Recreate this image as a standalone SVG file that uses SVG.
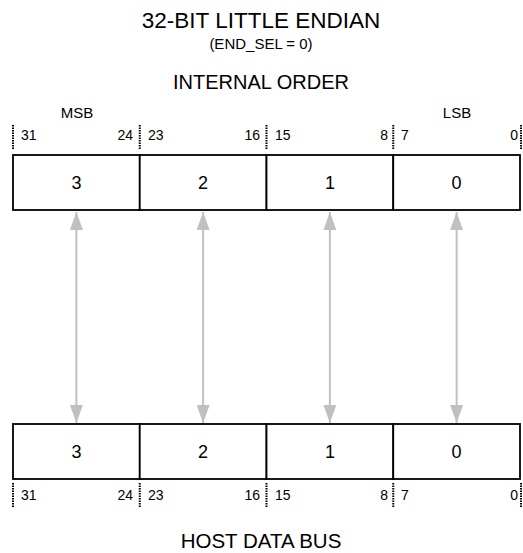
<svg xmlns="http://www.w3.org/2000/svg" width="523" height="553" viewBox="0 0 523 553">
<style>
text{font-family:"Liberation Sans",Arial,sans-serif;fill:#000}
.cell{fill:#fff;stroke:#000;stroke-width:1.8}
.num{font-size:18px;text-anchor:middle}
.bit{font-size:14px}
.r{text-anchor:end}
.tick{stroke:#000;stroke-width:2;stroke-dasharray:1.5 1}
.arr{stroke:#c0c0c0;stroke-width:2;fill:none;marker-start:url(#ah);marker-end:url(#ah)}
</style>
<defs>
<marker id="ah" viewBox="0 0 18 13" refX="18" refY="6.5" markerWidth="18" markerHeight="13" markerUnits="userSpaceOnUse" orient="auto-start-reverse">
<path d="M0,0 L18,6.5 L0,13 Z" fill="#c0c0c0"/>
</marker>
</defs>
<g id="titles">
<text x="261" y="28" font-size="22.5" text-anchor="middle">32-BIT LITTLE ENDIAN</text>
<text x="261" y="49" font-size="15" text-anchor="middle">(END_SEL = 0)</text>
<text x="261" y="89" font-size="20" text-anchor="middle">INTERNAL ORDER</text>
<text x="77" y="118" font-size="15" text-anchor="middle">MSB</text>
<text x="457" y="118" font-size="15" text-anchor="middle">LSB</text>
<text x="261" y="548" font-size="20.5" text-anchor="middle">HOST DATA BUS</text>
</g>
<g id="internal">
<rect class="cell" x="13" y="155" width="126.75" height="55"/>
<rect class="cell" x="139.75" y="155" width="126.75" height="55"/>
<rect class="cell" x="266.5" y="155" width="126.75" height="55"/>
<rect class="cell" x="393.25" y="155" width="126.75" height="55"/>
<text class="num" x="76.4" y="189">3</text>
<text class="num" x="203.1" y="189">2</text>
<text class="num" x="329.9" y="189">1</text>
<text class="num" x="456.6" y="189">0</text>
<line class="tick" x1="13" y1="125" x2="13" y2="150"/>
<line class="tick" x1="139.75" y1="125" x2="139.75" y2="150"/>
<line class="tick" x1="266.5" y1="125" x2="266.5" y2="150"/>
<line class="tick" x1="393.25" y1="125" x2="393.25" y2="150"/>
<line class="tick" x1="521" y1="125" x2="521" y2="150"/>
<text class="bit" x="21" y="140">31</text>
<text class="bit r" x="133" y="140">24</text>
<text class="bit" x="148" y="140">23</text>
<text class="bit r" x="260" y="140">16</text>
<text class="bit" x="275" y="140">15</text>
<text class="bit r" x="388" y="140">8</text>
<text class="bit" x="401" y="140">7</text>
<text class="bit r" x="518" y="140">0</text>
</g>
<g id="host">
<rect class="cell" x="13" y="424" width="126.75" height="55"/>
<rect class="cell" x="139.75" y="424" width="126.75" height="55"/>
<rect class="cell" x="266.5" y="424" width="126.75" height="55"/>
<rect class="cell" x="393.25" y="424" width="126.75" height="55"/>
<text class="num" x="76.4" y="458">3</text>
<text class="num" x="203.1" y="458">2</text>
<text class="num" x="329.9" y="458">1</text>
<text class="num" x="456.6" y="458">0</text>
<line class="tick" x1="13" y1="483" x2="13" y2="508"/>
<line class="tick" x1="139.75" y1="483" x2="139.75" y2="508"/>
<line class="tick" x1="266.5" y1="483" x2="266.5" y2="508"/>
<line class="tick" x1="393.25" y1="483" x2="393.25" y2="508"/>
<line class="tick" x1="521" y1="483" x2="521" y2="508"/>
<text class="bit" x="21" y="500">31</text>
<text class="bit r" x="133" y="500">24</text>
<text class="bit" x="148" y="500">23</text>
<text class="bit r" x="260" y="500">16</text>
<text class="bit" x="275" y="500">15</text>
<text class="bit r" x="388" y="500">8</text>
<text class="bit" x="401" y="500">7</text>
<text class="bit r" x="518" y="500">0</text>
</g>
<g id="connectors">
<line class="arr" x1="76.4" y1="212" x2="76.4" y2="423"/>
<line class="arr" x1="203.1" y1="212" x2="203.1" y2="423"/>
<line class="arr" x1="329.9" y1="212" x2="329.9" y2="423"/>
<line class="arr" x1="456.6" y1="212" x2="456.6" y2="423"/>
</g>
</svg>
